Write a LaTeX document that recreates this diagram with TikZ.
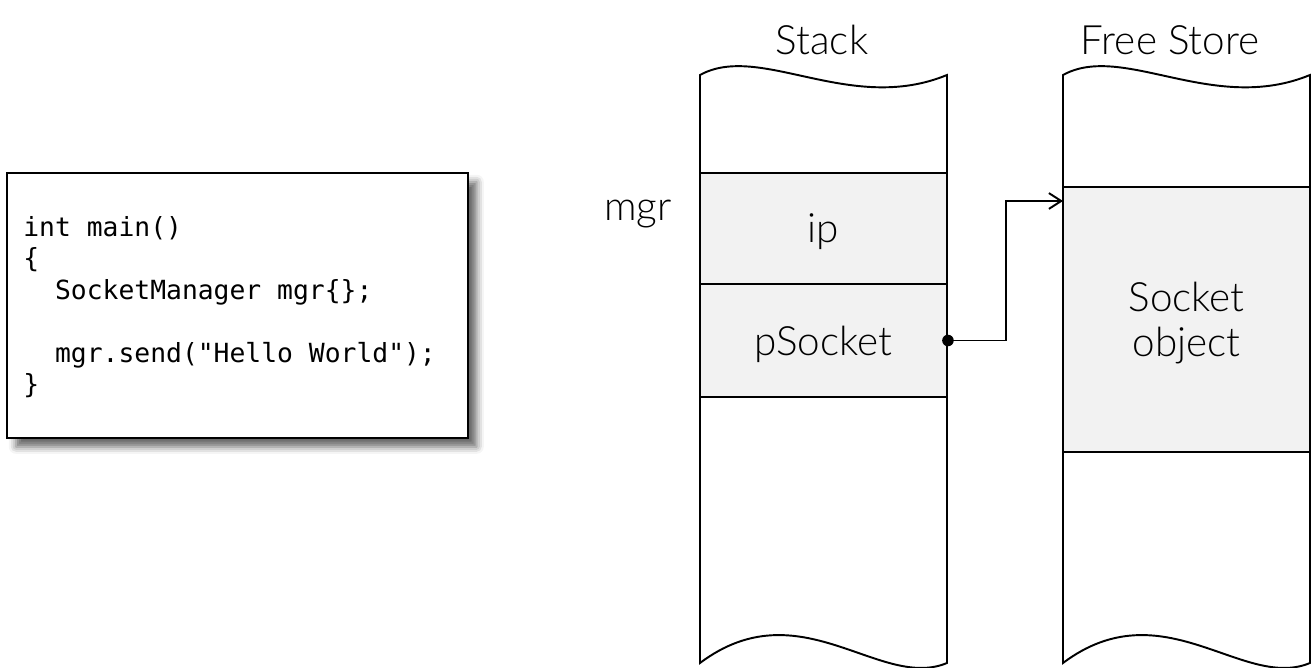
\documentclass[tikz,border=0pt]{standalone}
\usepackage{fontspec}
\IfFontExistsTF{Lato Light}{\setmainfont{Lato Light}}{\setmainfont{Open Sans}}
\newfontfamily\codefont{DejaVu Sans Mono}
\usetikzlibrary{arrows.meta,shadows.blur}
\definecolor{cellgray}{HTML}{F2F2F2}
\tikzset{
  lbl/.style={font=\fontsize{23}{28}\selectfont, inner sep=0pt},
  cell/.style={draw, fill=cellgray, line width=1.1pt, minimum width=4.94cm, inner sep=0pt, align=center, text depth=0pt, font=\fontsize{23}{25.5}\selectfont},
  column/.style={draw, fill=white, line width=1.1pt},
  ptr/.style={line width=1.1pt, -{Straight Barb[length=7pt,width=9pt,line width=1.1pt]}},
  codebox/.style={draw, fill=white, line width=1.1pt, minimum width=9.22cm, minimum height=5.3cm, inner sep=0pt,
    blur shadow={shadow xshift=5pt, shadow yshift=-5pt, shadow blur radius=4pt, shadow opacity=60}},
  codetext/.style={font=\codefont\fontsize{15}{17.9}\selectfont, align=left, inner sep=0pt, anchor=west}
}
\begin{document}
\begin{tikzpicture}[x=0.02cm, y=-0.02cm]
\useasboundingbox (0,0) rectangle (1316,668);

% code box
\node[codebox] (code) at (237.5,305.5) {};
\node[codetext] (codetxt) at (23,307) {int main()\\\{\\\phantom{xx}SocketManager mgr\{\};\\\mbox{}\\\phantom{xx}mgr.send("Hello World");\\\}};

% stack column
\draw[column] (700,75) .. controls (760,42) and (850,115) .. (947,75) -- (947,663)
  .. controls (880,691) and (800,588) .. (700,663) -- cycle;
\node[cell, minimum height=2.22cm] (ip) at (823.5,228.5) {ip};
\node[cell, minimum height=2.26cm] (psock) at (823.5,340.5) {pSocket};

% free store column
\draw[column] (1063,75) .. controls (1123,42) and (1213,115) .. (1310,75) -- (1310,663)
  .. controls (1243,691) and (1163,588) .. (1063,663) -- cycle;
\node[cell, minimum height=5.3cm] (sockobj) at (1186.5,319.5) {Socket\\object};

% titles
\node[lbl] (stacklbl) at (822,40) {Stack};
\node[lbl] (freelbl) at (1170,40) {Free Store};
\node[lbl] (mgrlbl) at (638,214) {mgr};

% pointer
\coordinate (tgt) at (1063,201);
\draw[ptr] (psock.east) -- ++(58,0) |- (tgt);
\fill (psock.east) circle[radius=3.3pt];
\end{tikzpicture}
\end{document}
